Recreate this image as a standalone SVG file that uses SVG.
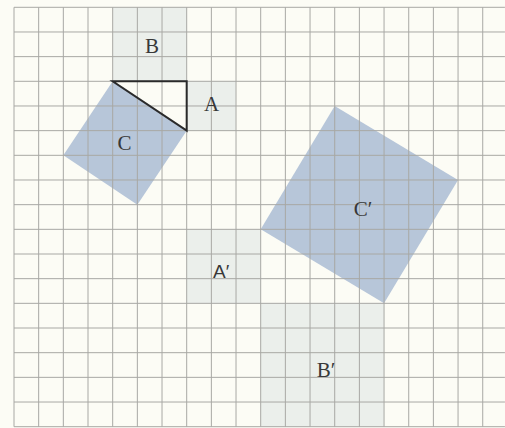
<svg xmlns="http://www.w3.org/2000/svg" width="505" height="428" viewBox="0 0 505 428">
<style>
.sq{fill:#ebefeb}
.big{fill:#b7c6d9}
.grid{stroke:#a8a8a4;stroke-width:1;fill:none;vector-effect:non-scaling-stroke}
.tri{stroke:#2a2a2a;stroke-width:2;fill:none;vector-effect:non-scaling-stroke;stroke-linejoin:miter}
.lbl{font-family:"Liberation Serif","DejaVu Serif",serif;font-size:21px;fill:#383838;text-anchor:middle}
.lbls{font-family:"Liberation Sans","DejaVu Sans",sans-serif;font-size:19px;fill:#383838}
</style>
<rect x="0" y="0" width="505" height="428" fill="#fcfcf5"/>
<g transform="translate(14,7.3) scale(24.67)">
  <g id="B"><rect class="sq" x="4" y="0" width="3" height="3"/></g>
  <g id="A"><rect class="sq" x="7" y="3" width="2" height="2"/></g>
  <g id="C"><polygon class="big" points="4,3 7,5 5,8 2,6"/></g>
  <g id="Aprime"><rect class="sq" x="7" y="9" width="3" height="3"/></g>
  <g id="Bprime"><rect class="sq" x="10" y="12" width="5" height="5"/></g>
  <g id="Cprime"><polygon class="big" points="13,4 18,7 15,12 10,9"/></g>
  <path class="grid" d="M0,0V17M1,0V17M2,0V17M3,0V17M4,0V17M5,0V17M6,0V17M7,0V17M8,0V17M9,0V17M10,0V17M11,0V17M12,0V17M13,0V17M14,0V17M15,0V17M16,0V17M17,0V17M18,0V17M19,0V17
  M0,0H19.9M0,1H19.9M0,2H19.9M0,3H19.9M0,4H19.9M0,5H19.9M0,6H19.9M0,7H19.9M0,8H19.9M0,9H19.9M0,10H19.9M0,11H19.9M0,12H19.9M0,13H19.9M0,14H19.9M0,15H19.9M0,16H19.9M0,17H19.9"/>
  <g id="connectors"><polygon class="tri" points="4,3 7,3 7,5"/></g>
</g>
<g id="labels">
  <text class="lbl" x="152" y="53">B</text>
  <text class="lbl" x="211.5" y="111">A</text>
  <text class="lbl" x="124.5" y="150">C</text>
  <text class="lbl" x="363" y="216">C′</text>
  <text class="lbls" x="213" y="278">A′</text>
  <text class="lbl" x="326" y="377">B′</text>
</g>
</svg>
